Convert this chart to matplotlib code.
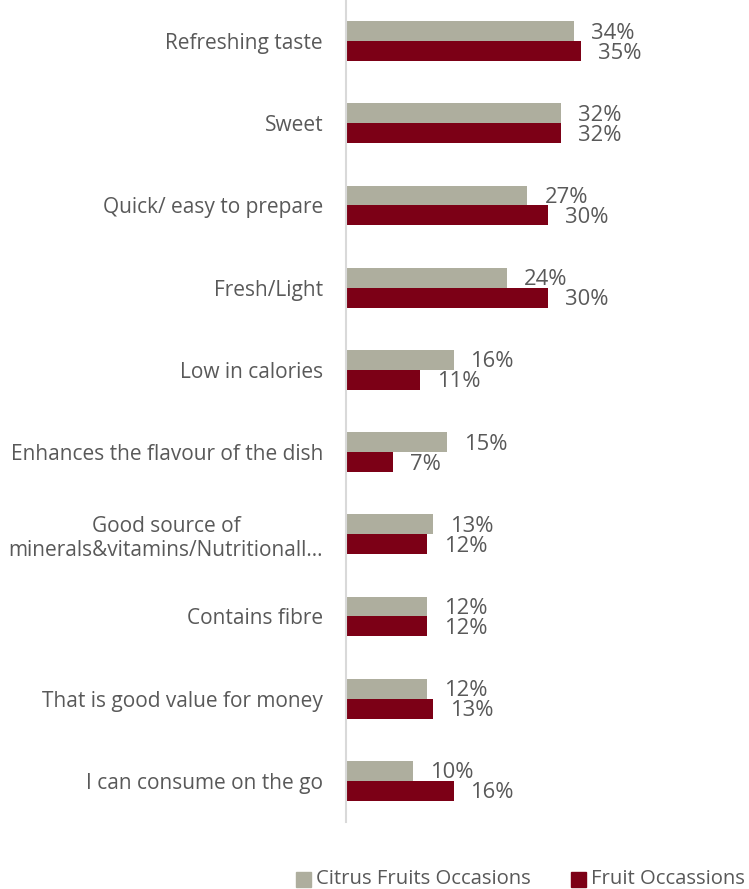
import matplotlib
matplotlib.use("Agg")
import matplotlib.pyplot as plt
from matplotlib.patches import Rectangle

plt.rcParams["font.family"] = ["Open Sans", "DejaVu Sans"]

categories = [
    "Refreshing taste",
    "Sweet",
    "Quick/ easy to prepare",
    "Fresh/Light",
    "Low in calories",
    "Enhances the flavour of the dish",
    "Good source of\nminerals&vitamins/Nutritionall…",
    "Contains fibre",
    "That is good value for money",
    "I can consume on the go",
]
citrus_values = [34, 32, 27, 24, 16, 15, 13, 12, 12, 10]
fruit_values = [35, 32, 30, 30, 11, 7, 12, 12, 13, 16]
series_names = ["Citrus Fruits Occasions", "Fruit Occassions"]

CITRUS_COLOR = "#AEAE9E"
FRUIT_COLOR = "#7C0016"
TEXT_COLOR = "#595959"
FS = 15
FS_VALUE = 15.8
FS_LEGEND = 14.6

W, H = 749, 889
fig = plt.figure(figsize=(W / 100, H / 100), dpi=100)
ax = fig.add_axes([346 / W, 1 - 822 / H, 1 - 346 / W, 822 / H])

bar_h = 0.243
ypos = list(range(len(categories)))
y_citrus = [y - bar_h / 2 for y in ypos]
y_fruit = [y + bar_h / 2 for y in ypos]
ax.barh(y_citrus, citrus_values, height=bar_h, color=CITRUS_COLOR)
ax.barh(y_fruit, fruit_values, height=bar_h, color=FRUIT_COLOR)

for ys, vals in ((y_citrus, citrus_values), (y_fruit, fruit_values)):
    for y, v in zip(ys, vals):
        ax.annotate(f"{v}%", xy=(v, y), xytext=(12.2, -1.5),
                    textcoords="offset points", ha="left", va="center",
                    fontsize=FS_VALUE, color=TEXT_COLOR)

ax.set_xlim(0, (W - 346) / 6.72)
ax.set_ylim(len(categories) - 0.5, -0.5)
ax.set_yticks(ypos)
ax.set_yticklabels(categories, fontsize=FS, color=TEXT_COLOR,
                   multialignment="center")
ax.tick_params(axis="y", length=0, pad=16.5)
ax.set_xticks([])
for side in ("top", "right", "bottom"):
    ax.spines[side].set_visible(False)
ax.spines["left"].set_color("#D9D9D9")
ax.spines["left"].set_linewidth(1.5)

# Legend laid out by hand: a square swatch followed by its series name
sw = 15
legend_x = [296, 571]
legend_cy = 879
for x0, name, color in zip(legend_x, series_names, (CITRUS_COLOR, FRUIT_COLOR)):
    fig.patches.append(Rectangle((x0 / W, 1 - (legend_cy + sw / 2) / H),
                                 sw / W, sw / H, transform=fig.transFigure,
                                 color=color, figure=fig))
    fig.text((x0 + sw + 5) / W, 1 - legend_cy / H, name, ha="left",
             va="center", fontsize=FS_LEGEND, color=TEXT_COLOR)

fig.savefig("out.png", dpi=100)
